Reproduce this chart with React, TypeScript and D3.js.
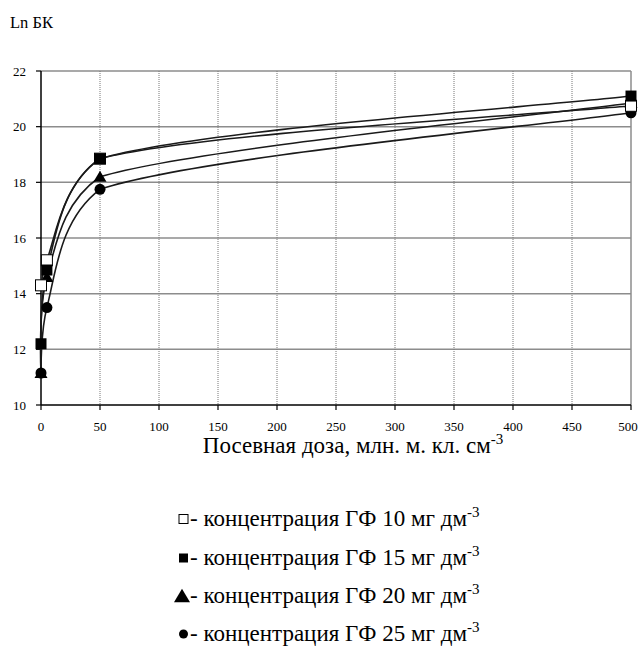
import React from "react";
import * as d3 from "d3";

// Seeding dose, mln cells per cm^3
const doses = [0, 5, 50, 500];

// Ln of bacterial concentration for each formaldehyde concentration
const gf10 = [14.3, 15.2, 18.85, 20.75];
const gf15 = [12.2, 14.85, 18.85, 21.1];
const gf20 = [11.15, 14.6, 18.2, 20.85];
const gf25 = [11.15, 13.5, 17.75, 20.5];

const yTicks = [10, 12, 14, 16, 18, 20, 22];
const xTicks = [0, 50, 100, 150, 200, 250, 300, 350, 400, 450, 500];

const seriesLabels = [
  "- концентрация ГФ 10 мг дм",
  "- концентрация ГФ 15 мг дм",
  "- концентрация ГФ 20 мг дм",
  "- концентрация ГФ 25 мг дм",
];

type Marker = "openSquare" | "square" | "triangle" | "circle";
const seriesMarkers: Marker[] = ["openSquare", "square", "triangle", "circle"];
const seriesValues = [gf10, gf15, gf20, gf25];

const W = 639;
const H = 651;
const left = 41;
const right = 631;
const top = 71;
const bottom = 405;

const FONT = "'Liberation Serif', 'Times New Roman', serif";

type Pt = [number, number];

// Smoothed line through the points: centripetal Catmull-Rom controls for the
// steep early segments, plain cardinal controls for the last long segment.
function smoothPath(pts: Pt[]): string {
  const p = d3.path();
  p.moveTo(pts[0][0], pts[0][1]);
  const n = pts.length;
  const dist = (a: Pt, b: Pt) => Math.hypot(b[0] - a[0], b[1] - a[1]);
  for (let i = 0; i < n - 1; i++) {
    const P1 = pts[i];
    const P2 = pts[i + 1];
    const P0 = i > 0 ? pts[i - 1] : null;
    const P3 = i + 2 < n ? pts[i + 2] : null;
    let c1: Pt;
    let c2: Pt;
    if (i === n - 2) {
      const prev = P0 ?? P1;
      c1 = [P1[0] + (P2[0] - prev[0]) / 6, P1[1] + (P2[1] - prev[1]) / 6];
      c2 = [P2[0] - (P2[0] - P1[0]) / 6, P2[1] - (P2[1] - P1[1]) / 6];
    } else {
      const d2 = Math.sqrt(dist(P1, P2));
      if (P0) {
        const d1 = Math.sqrt(dist(P0, P1));
        const a = d1 * d1, b = d2 * d2, k = 2 * a + 3 * d1 * d2 + b, den = 3 * d1 * (d1 + d2);
        c1 = [(a * P2[0] - b * P0[0] + k * P1[0]) / den, (a * P2[1] - b * P0[1] + k * P1[1]) / den];
      } else {
        c1 = [P1[0], P1[1]];
      }
      if (P3) {
        const d3v = Math.sqrt(dist(P2, P3));
        const a = d3v * d3v, b = d2 * d2, k = 2 * a + 3 * d3v * d2 + b, den = 3 * d3v * (d3v + d2);
        c2 = [(a * P1[0] - b * P3[0] + k * P2[0]) / den, (a * P1[1] - b * P3[1] + k * P2[1]) / den];
      } else {
        c2 = [P2[0], P2[1]];
      }
    }
    p.bezierCurveTo(c1[0], c1[1], c2[0], c2[1], P2[0], P2[1]);
  }
  return p.toString();
}

function MarkerShape({ kind, x, y, s }: { kind: Marker; x: number; y: number; s: number }) {
  if (kind === "openSquare")
    return <rect x={x - s / 2} y={y - s / 2} width={s} height={s} fill="#fff" stroke="#000" strokeWidth={1} />;
  if (kind === "square")
    return <rect x={x - s / 2} y={y - s / 2} width={s} height={s} fill="#000" />;
  if (kind === "triangle") {
    const h = s * 0.9;
    return <path d={`M${x},${y - h / 2 - 1}L${x + s / 2 + 1},${y + h / 2}L${x - s / 2 - 1},${y + h / 2}Z`} fill="#000" />;
  }
  return <circle cx={x} cy={y} r={s / 2} fill="#000" />;
}

export default function App() {
  const x = d3.scaleLinear().domain([0, 500]).range([left, right]);
  const y = d3.scaleLinear().domain([10, 22]).range([bottom, top]);

  // draw order: lower markers first so the upper ones stay visible
  const drawOrder = [3, 2, 0, 1];
  const legendBase = [526, 565, 603, 641];

  return (
    <svg
      width={W}
      height={H}
      style={{ position: "absolute", left: 0, top: 0, background: "#fff" }}
      fontFamily={FONT}
    >
      <rect x={0} y={0} width={W} height={H} fill="#fff" />
      <text x={10} y={28} fontSize={16.5} fill="#000">
        Ln БК
      </text>

      {/* grid */}
      {yTicks.filter((t) => t > 10).map((t) => (
        <line key={"gy" + t} x1={left} x2={right} y1={y(t)} y2={y(t)} stroke="#8c8c8c" strokeWidth={1.5} />
      ))}
      {xTicks.filter((t) => t > 0 && t < 500).map((t) => (
        <line
          key={"gx" + t}
          x1={x(t)}
          x2={x(t)}
          y1={top}
          y2={bottom}
          stroke="#777"
          strokeWidth={1}
          strokeDasharray="1 1"
        />
      ))}
      <line x1={right} x2={right} y1={top} y2={bottom} stroke="#8c8c8c" strokeWidth={1.5} />

      {/* axes */}
      <line x1={left} x2={left} y1={top} y2={bottom} stroke="#000" strokeWidth={1.5} />
      <line x1={left} x2={right} y1={bottom} y2={bottom} stroke="#000" strokeWidth={1.5} />
      {yTicks.map((t) => (
        <g key={"yt" + t}>
          <line x1={left - 5} x2={left} y1={y(t)} y2={y(t)} stroke="#000" strokeWidth={1.2} />
          <text x={26} y={y(t)} dy="0.35em" textAnchor="end" fontSize={13} fill="#000">
            {t}
          </text>
        </g>
      ))}
      {xTicks.map((t) => (
        <g key={"xt" + t}>
          <line x1={x(t)} x2={x(t)} y1={bottom} y2={bottom + 5} stroke="#000" strokeWidth={1.2} />
          <text
            x={Math.min(x(t), 628)}
            y={431}
            textAnchor="middle"
            fontSize={13}
            fill="#000"
          >
            {t}
          </text>
        </g>
      ))}

      <text x={353} y={453} textAnchor="middle" fontSize={23} fill="#000">
        Посевная доза, млн. м. кл. см
        <tspan dy={-9} fontSize={15}>-3</tspan>
      </text>

      {/* curves */}
      {seriesValues.map((vals, i) => (
        <path
          key={"l" + i}
          d={smoothPath(vals.map((v, j) => [x(doses[j]), y(v)] as Pt))}
          fill="none"
          stroke="#1a1a1a"
          strokeWidth={1.6}
        />
      ))}

      {/* markers */}
      {drawOrder.map((si) =>
        seriesValues[si].map((v, j) => (
          <MarkerShape key={`m${si}-${j}`} kind={seriesMarkers[si]} x={x(doses[j])} y={y(v)} s={11} />
        ))
      )}

      {/* legend */}
      {seriesLabels.map((lab, i) => (
        <g key={"lg" + i}>
          <MarkerShape
            kind={seriesMarkers[i]}
            x={i === 2 ? 182 : 183.5}
            y={legendBase[i] - 7}
            s={i === 2 ? 14 : 9}
          />
          <text x={190} y={legendBase[i]} fontSize={23} fill="#000">
            {lab}
            <tspan dy={-9} fontSize={15}>-3</tspan>
          </text>
        </g>
      ))}
    </svg>
  );
}
